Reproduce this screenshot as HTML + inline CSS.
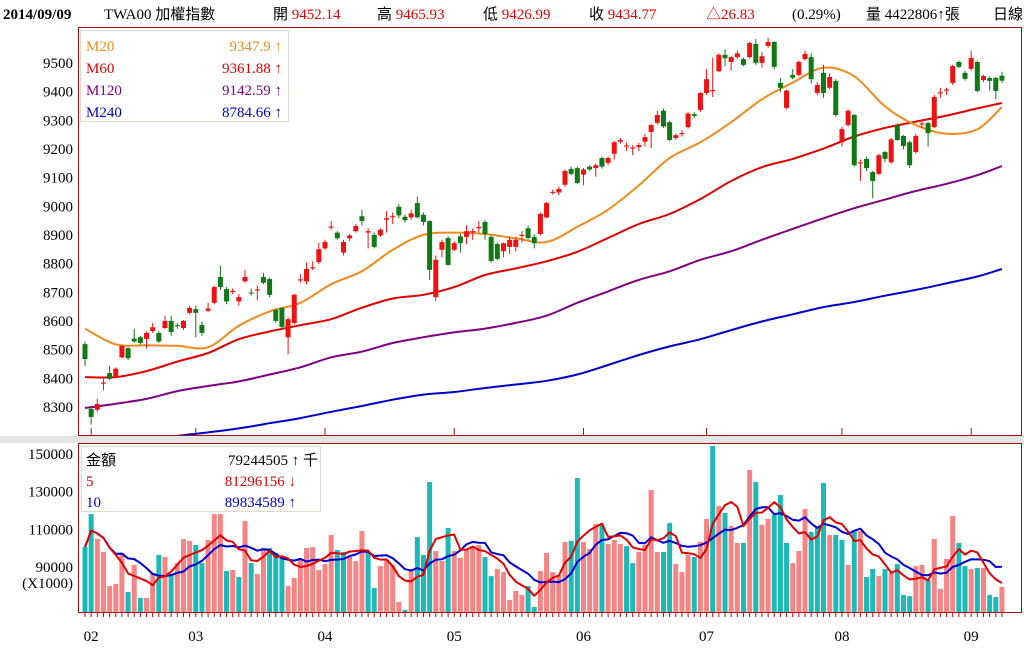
<!DOCTYPE html>
<html><head><meta charset="utf-8">
<style>
html,body{margin:0;padding:0;background:#fff;}
body{width:1024px;height:662px;overflow:hidden;font-family:"Liberation Serif","Noto Serif CJK SC","Noto Sans CJK TC",serif;}
svg text{font-family:"Liberation Serif","Noto Sans CJK TC",serif;}
</style></head>
<body>
<svg id="chart" width="1024" height="662" viewBox="0 0 1024 662" xmlns="http://www.w3.org/2000/svg">
<defs>
<clipPath id="clipTop"><rect x="79" y="28" width="942" height="407"/></clipPath>
<clipPath id="clipBot"><rect x="79" y="444" width="942" height="168"/></clipPath>
</defs>
<g id="header" font-size="15">
<text x="3" y="19" font-weight="bold">2014/09/09</text>
<text x="104" y="19">TWA00 加權指數</text>
<text x="273" y="19">開 <tspan fill="#e00000">9452.14</tspan></text>
<text x="377" y="19">高 <tspan fill="#e00000">9465.93</tspan></text>
<text x="483" y="19">低 <tspan fill="#e00000">9426.99</tspan></text>
<text x="589" y="19">收 <tspan fill="#e00000">9434.77</tspan></text>
<text x="706" y="19" fill="#e00000">△26.83</text>
<text x="792" y="19">(0.29%)</text>
<text x="866" y="19">量 4422806↑張</text>
<text x="993" y="19">日線</text>
</g>
<rect x="0" y="436" width="1024" height="7" fill="#e4e4e4"/>
<rect x="78.5" y="27.5" width="943" height="408" fill="#fff" stroke="#a01010"/>
<rect x="78.5" y="443.5" width="943" height="169" fill="#fff" stroke="#a01010"/>
<g id="yAxis" font-size="15" text-anchor="end"></g>
<g id="vAxis" font-size="15" text-anchor="end"></g>
<g id="priceMarks" clip-path="url(#clipTop)"></g>
<g id="volMarks" clip-path="url(#clipBot)"></g>
<g id="xAxis" font-size="15" text-anchor="middle"></g>
<g>
<rect x="80.5" y="30.5" width="208" height="91" fill="#fff" fill-opacity="0.9" stroke="#ddd8cc"/>
<g font-size="15">
<text x="86" y="51" fill="#f08a1c">M20</text>
<text x="282" y="51" fill="#f08a1c" text-anchor="end">9347.9 ↑</text>
<text x="86" y="73" fill="#e00000">M60</text>
<text x="282" y="73" fill="#e00000" text-anchor="end">9361.88 ↑</text>
<text x="86" y="95" fill="#800080">M120</text>
<text x="282" y="95" fill="#800080" text-anchor="end">9142.59 ↑</text>
<text x="86" y="117" fill="#0000c8">M240</text>
<text x="282" y="117" fill="#0000c8" text-anchor="end">8784.66 ↑</text>
</g></g>
<g>
<rect x="81.5" y="446.5" width="239" height="65" fill="#fff" fill-opacity="0.9" stroke="#ddd8cc"/>
<g font-size="15">
<text x="86" y="465" fill="#000">金額</text>
<text x="318" y="465" fill="#000" text-anchor="end">79244505 ↑ 千</text>
<text x="86" y="486" fill="#e00000">5</text>
<text x="296" y="486" fill="#e00000" text-anchor="end">81296156 ↓</text>
<text x="86" y="507" fill="#0000c8">10</text>
<text x="296" y="507" fill="#0000c8" text-anchor="end">89834589 ↑</text>
</g></g>
</svg>
<script>
const opens=[8516,8290,8287,8378,8415,8405,8470,8502,8535,8540,8534,8562,8555,8572,8597,8582,8572,8625,8638,8583,8632,8660,8750,8708,8698,8665,8735,8696,8703,8750,8743,8635,8642,8540,8590,8738,8735,8780,8802,8850,8922,8905,8835,8885,8910,8962,8905,8897,8895,8950,8958,8995,8960,8958,9008,8967,8945,8680,8845,8886,8845,8892,8890,8906,8920,8942,8890,8865,8840,8855,8855,8893,8920,8890,8900,8958,9043,9045,9072,9127,9130,9107,9135,9130,9165,9148,9180,9222,9205,9198,9203,9222,9256,9288,9330,9290,9235,9248,9273,9318,9333,9392,9398,9468,9525,9500,9517,9510,9517,9563,9497,9556,9570,9427,9340,9455,9455,9510,9517,9392,9462,9410,9434,9220,9280,9315,9146,9162,9116,9110,9186,9150,9280,9242,9220,9186,9282,9287,9273,9390,9400,9427,9500,9462,9476,9500,9437,9444,9444,9452];
const closes=[8464,8262,8307,8382,8395,8430,8510,8467,8525,8520,8555,8575,8525,8597,8558,8578,8597,8642,8625,8555,8640,8715,8715,8665,8702,8680,8750,8694,8707,8730,8688,8597,8576,8603,8688,8742,8778,8784,8847,8872,8926,8885,8872,8895,8928,8945,8910,8855,8915,8955,8962,8965,8948,8972,8958,8942,8775,8810,8872,8792,8868,8868,8910,8910,8925,8900,8806,8813,8868,8880,8880,8897,8886,8868,8970,9008,9047,9057,9120,9110,9078,9125,9125,9140,9135,9165,9220,9228,9209,9202,9210,9238,9280,9315,9275,9228,9245,9252,9320,9312,9392,9440,9402,9525,9513,9517,9530,9490,9566,9497,9520,9570,9483,9410,9400,9445,9500,9528,9440,9420,9392,9448,9315,9266,9330,9140,9150,9130,9085,9175,9162,9230,9228,9207,9140,9242,9286,9252,9378,9394,9404,9486,9483,9441,9514,9399,9451,9434,9399,9435];
const highs=[8525,8300,8325,8395,8440,8435,8512,8505,8570,8545,8560,8590,8560,8615,8615,8590,8600,8650,8650,8595,8660,8720,8790,8715,8710,8690,8775,8710,8720,8765,8748,8640,8645,8610,8692,8760,8800,8805,8870,8880,8945,8910,8880,8900,8935,8985,8920,8905,8920,8980,8975,9005,8968,8985,9030,8975,8948,8825,8880,8892,8875,8900,8930,8920,8945,8948,8895,8870,8870,8890,8890,8910,8930,8900,8975,9012,9055,9065,9125,9135,9135,9130,9140,9145,9170,9170,9225,9235,9220,9210,9218,9250,9285,9330,9338,9295,9250,9262,9325,9325,9395,9475,9515,9530,9545,9520,9540,9515,9570,9580,9535,9585,9572,9445,9403,9475,9505,9540,9530,9430,9490,9460,9440,9275,9335,9318,9160,9170,9120,9180,9190,9235,9285,9245,9225,9250,9295,9292,9385,9410,9410,9490,9505,9470,9540,9505,9455,9450,9448,9466];
const lows=[8440,8235,8280,8355,8390,8400,8465,8460,8520,8515,8500,8555,8520,8570,8545,8570,8565,8620,8540,8545,8628,8655,8705,8655,8690,8650,8730,8685,8670,8725,8680,8590,8570,8480,8585,8730,8725,8775,8795,8845,8915,8880,8825,8875,8905,8930,8850,8850,8890,8905,8935,8955,8940,8950,8955,8930,8740,8668,8820,8790,8840,8835,8865,8880,8905,8880,8800,8808,8820,8830,8840,8870,8880,8850,8895,8955,9038,9035,9065,9105,9075,9070,9120,9100,9128,9140,9160,9215,9190,9175,9190,9205,9200,9282,9270,9225,9228,9240,9268,9305,9325,9385,9378,9465,9485,9470,9510,9485,9512,9490,9480,9550,9475,9395,9335,9440,9450,9505,9425,9385,9375,9405,9310,9205,9275,9135,9085,9120,9025,9105,9150,9145,9225,9195,9130,9180,9270,9205,9270,9375,9385,9420,9478,9435,9470,9395,9430,9400,9370,9427];
const volumes=[100100,117600,104400,97500,79400,80500,97000,76300,90600,73100,73100,86300,95900,94800,85300,91600,104400,103400,101200,91600,103900,117600,117600,87400,87900,84200,113900,91600,85800,99600,99600,97000,94300,79400,83700,93200,99600,100100,87900,91100,106500,98500,97500,94800,92700,108600,97500,78400,90000,93200,90600,71000,66700,88000,105400,95900,134600,98000,92700,110200,98000,94300,98500,100600,101200,94800,84700,88500,86800,72000,76800,74700,79400,68300,87400,97000,86800,85300,102800,103400,136700,102800,99100,112300,111800,101700,103900,101700,100600,91600,97500,101200,130400,97500,97500,112900,91100,86800,95900,94800,102800,115000,153700,121900,118200,111300,102300,102300,141000,134600,111800,115000,117100,127700,102300,91600,98000,120300,108100,110700,134100,106500,106500,103900,90600,109100,108600,84200,88500,84700,88500,86300,91100,74700,74100,90000,90600,82600,104400,77900,93800,116600,102300,90000,88500,89000,89000,74700,73600,78900];
const maDays=[0,5,10,15,20,25,30,35,40,45,50,55,60,65,70,75,80,85,90,95,100,105,110,115,120,125,130,135,140,145,149];
const ma20=[8570,8515,8512,8510,8505,8580,8630,8660,8725,8770,8845,8897,8905,8900,8885,8872,8925,8985,9070,9165,9220,9290,9370,9428,9480,9450,9345,9280,9250,9265,9343];
const ma60=[8401,8401,8422,8455,8485,8533,8560,8582,8603,8643,8675,8688,8715,8757,8780,8805,8838,8886,8935,8970,9022,9085,9133,9162,9198,9240,9270,9292,9313,9338,9357];
const ma120=[8293,8308,8325,8352,8370,8386,8410,8435,8470,8490,8520,8540,8557,8570,8590,8615,8660,8700,8740,8770,8810,8840,8880,8918,8955,8990,9020,9050,9075,9105,9137];
const ma240=[8150,8165,8180,8196,8208,8222,8240,8258,8280,8300,8322,8340,8349,8363,8375,8388,8410,8443,8478,8508,8533,8565,8595,8620,8645,8663,8685,8705,8728,8752,8778];
const priceTicks=[8300,8400,8500,8600,8700,8800,8900,9000,9100,9200,9300,9400,9500];
const volTicks=[90000,110000,130000,150000];
const monthLabels=["02","03","04","05","06","07","08","09"];
const monthStartDays=[1,18,39,60,81,101,123,144];

const NS="http://www.w3.org/2000/svg";
const X0=85, DX=6.154;
function xDay(i){return X0+i*DX;}
function yPrice(p){return 62+(9500-p)*0.2867;}
function yVol(v){return 453+(150000-v)*37.7/20000;}
function mk(tag,attrs,parent){const e=document.createElementNS(NS,tag);for(const k in attrs)e.setAttribute(k,attrs[k]);parent.appendChild(e);return e;}
function smoothPath(pts){
  let d='M'+pts[0][0].toFixed(1)+','+pts[0][1].toFixed(1);
  for(let i=0;i<pts.length-1;i++){
    const p0=pts[Math.max(0,i-1)],p1=pts[i],p2=pts[i+1],p3=pts[Math.min(pts.length-1,i+2)];
    const c1=[p1[0]+(p2[0]-p0[0])/6,p1[1]+(p2[1]-p0[1])/6];
    const c2=[p2[0]-(p3[0]-p1[0])/6,p2[1]-(p3[1]-p1[1])/6];
    d+=' C'+c1[0].toFixed(1)+','+c1[1].toFixed(1)+' '+c2[0].toFixed(1)+','+c2[1].toFixed(1)+' '+p2[0].toFixed(1)+','+p2[1].toFixed(1);
  }
  return d;
}

const yAxis=document.getElementById('yAxis');
priceTicks.forEach(p=>{
  const t=mk('text',{x:73,y:yPrice(p)+6},yAxis);
  
  
  t.textContent=p;
});
const vAxis=document.getElementById('vAxis');
volTicks.forEach(v=>{
  const t=mk('text',{x:73,y:yVol(v)+6},vAxis);
  
  
  t.textContent=v;
});
const unit=mk('text',{x:73,y:yVol(90000)+22},vAxis);


unit.textContent='(X1000)';

const pm=document.getElementById('priceMarks');
function maLine(vals,color,name){
  const pts=vals.map((v,k)=>[xDay(maDays[k]),yPrice(v)]);
  const l=mk('path',{d:smoothPath(pts),fill:'none',stroke:color,'stroke-width':2,'stroke-linejoin':'round'},pm);
  
  
}
maLine(ma240,'#0000c8','m240-line');
maLine(ma120,'#800080','m120-line');
maLine(ma60,'#e00000','m60-line');
maLine(ma20,'#f08a1c','m20-line');

opens.forEach((o,i)=>{
  const c=closes[i],up=c>=o,col=up?'#ee1111':'#0f7a14';
  const x=xDay(i);
  const g=mk('g',{},pm);
  
  
  mk('line',{x1:x,x2:x,y1:yPrice(highs[i]),y2:yPrice(lows[i]),stroke:col,'stroke-width':1},g);
  const yt=yPrice(Math.max(o,c)),yb=yPrice(Math.min(o,c));
  mk('rect',{x:x-2.5,y:yt,width:5,height:Math.max(1,yb-yt),fill:col},g);
});

const vm=document.getElementById('volMarks');
volumes.forEach((v,i)=>{
  const up=i===0?closes[0]>=opens[0]:closes[i]>=closes[i-1];
  const y=yVol(v);
  const r=mk('rect',{x:xDay(i)-2.5,y:y,width:5,height:613-y,fill:up?'#f68484':'#1db8b8'},vm);
  
  
});
function volMA(n,color,name){
  const pts=volumes.map((v,i)=>{const s=volumes.slice(Math.max(0,i-n+1),i+1);const a=s.reduce((p,q)=>p+q,0)/s.length;return xDay(i).toFixed(1)+','+yVol(a).toFixed(1);}).join(' ');
  const l=mk('polyline',{points:pts,fill:'none',stroke:color,'stroke-width':2,'stroke-linejoin':'round'},vm);
  
  
}
volMA(10,'#0000d0','volume-ma10-line');
volMA(5,'#e00000','volume-ma5-line');

const xa=document.getElementById('xAxis');
opens.forEach((o,i)=>{
  const t=mk('line',{x1:xDay(i),x2:xDay(i),y1:613,y2:617,stroke:'#a01010','stroke-width':1},xa);
  
  
});
monthLabels.forEach((m,k)=>{
  const x=xDay(monthStartDays[k]);
  const t1=mk('line',{x1:x,x2:x,y1:428,y2:435,stroke:'#a01010','stroke-width':1},xa);
  
  
  const t=mk('text',{x:x,y:641},xa);
  
  
  t.textContent=m;
});
</script>
</body></html>
